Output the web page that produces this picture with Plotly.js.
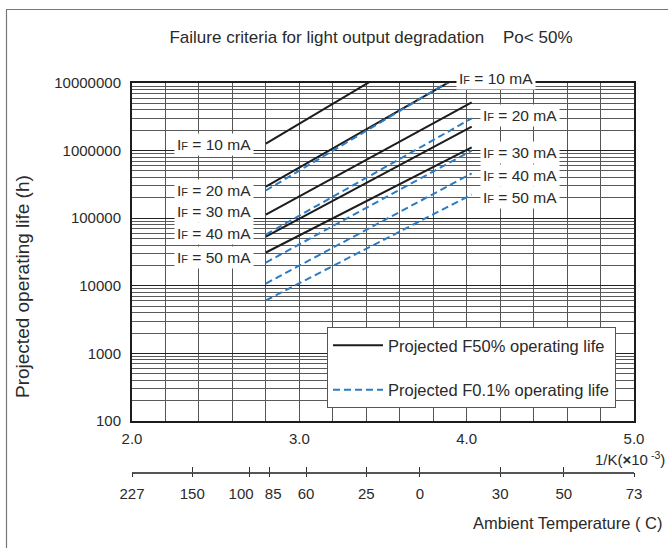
<!DOCTYPE html>
<html>
<head>
<meta charset="utf-8">
<script src="https://cdn.plot.ly/plotly-3.0.1.min.js"></script>
<style>
html,body{margin:0;padding:0;background:#fff;}
</style>
</head>
<body>
<div id="chart" style="width:668px;height:548px;"></div>
<script>
// ---- data ----
const invT = [2.8, 4.03];               // 1/K (x10^-3), 85 C .. -25 C
const currents = [10, 20, 30, 40, 50];  // IF (mA)
// Projected F50% operating life (h) at invT endpoints
const f50_10 = [1.27e6, 8.2e7];
const f50_20 = [2.94e5, 1.6e7];
const f50_30 = [1.13e5, 5.15e6];
const f50_40 = [5.36e4, 2.26e6];
const f50_50 = [3.11e4, 1.12e6];
// Projected F0.1% operating life (h)
const f01_10 = [2.57e5, 1.66e7];
const f01_20 = [5.74e4, 3.0e6];
const f01_30 = [2.21e4, 1.0e6];
const f01_40 = [1.08e4, 4.6e5];
const f01_50 = [6.07e3, 2.24e5];

const yTickVals = [100, 1000, 10000, 100000, 1000000, 10000000];
const yTickText = ['100', '1000', '10000', '100000', '1000000', '10000000'];
const xTickVals = [2, 3, 4, 5];
const xTickText = ['2.0', '3.0', '4.0', '5.0'];
const tempTickVals = [2.0, 2.36, 2.70, 2.82, 3.04, 3.40, 3.72, 4.20, 4.58, 5.0];
const tempTickText = ['227', '150', '100', '85', '60', '25', '0', '30', '50', '73'];

const titleText = 'Failure criteria for light output degradation\u00a0\u00a0\u00a0\u00a0Po&lt;\u00a050%';
const legendF50 = 'Projected F50% operating life';
const legendF01 = 'Projected F0.1% operating life';

// ---- build ----
const FONT = 'Liberation Sans, Arial, Helvetica, sans-serif';
const TXT = '#2a2a2a';
const BLACK = '#1c1c1c';
const BLUE = '#2b7bc6';

const f50 = [f50_10, f50_20, f50_30, f50_40, f50_50];
const f01 = [f01_10, f01_20, f01_30, f01_40, f01_50];

// minor log grid values
const minorVals = [];
for (let e = 2; e < 7; e++) {
  for (let m = 2; m <= 9; m++) minorVals.push(m * Math.pow(10, e));
}

// pixel -> paper helpers for the plot area (l=132, r=634, top=83, bottom=472)
const PL = 132, PW = 502, PB = 472, PH = 389;
const px = v => (v - PL) / PW;
const py = v => (PB - v) / PH;
const PX_PER_UNIT = PW / 3;

// crowded temperature labels (100 / 85) sit slightly apart from their ticks, as in the original
const labelNudgePx = {'100': -8, '85': 4};
const tempLabelPos = tempTickVals.map((v, i) => v + (labelNudgePx[tempTickText[i]] || 0) / PX_PER_UNIT);

const traces = [];
f50.forEach((ys, i) => {
  traces.push({
    x: invT, y: ys, type: 'scatter', mode: 'lines',
    line: {color: BLACK, width: 2},
    name: legendF50, legendgroup: 'f50', showlegend: i === 0,
    hoverinfo: 'skip'
  });
});
f01.forEach((ys, i) => {
  traces.push({
    x: invT, y: ys, type: 'scatter', mode: 'lines',
    line: {color: BLUE, width: 2, dash: '7px,4px'},
    name: legendF01, legendgroup: 'f01', showlegend: i === 0,
    hoverinfo: 'skip'
  });
});
// carriers for the temperature axes
['x2', 'x3', 'x4'].forEach(ax => {
  traces.push({x: tempTickVals, y: tempTickVals.map(() => null), xaxis: ax, yaxis: 'y',
    mode: 'lines', showlegend: false, hoverinfo: 'skip'});
});

const ifLabel = c => 'I<span style="font-size:11px">F</span> = ' + c + ' mA';
const labelFont = {family: FONT, size: 15.5, color: TXT};

const leftY = [144, 190, 212, 234, 257];
const rightX = [496, 520, 520, 520, 520];
const rightY = [79, 116, 152, 175, 197];

const annotations = [];
currents.forEach((c, i) => {
  annotations.push({
    text: ifLabel(c), xref: 'paper', yref: 'paper', x: px(214), y: py(leftY[i]),
    xanchor: 'center', yanchor: 'middle', showarrow: false,
    bgcolor: '#ffffff', borderpad: 2, font: labelFont
  });
  annotations.push({
    text: ifLabel(c), xref: 'paper', yref: 'paper', x: px(rightX[i]), y: py(rightY[i]),
    xanchor: 'center', yanchor: 'middle', showarrow: false,
    bgcolor: '#ffffff', borderpad: 2, font: labelFont
  });
});
annotations.push({
  text: 'Projected operating life (h)', xref: 'paper', yref: 'paper',
  x: px(22), y: py(287), textangle: -90, xanchor: 'center', yanchor: 'middle',
  showarrow: false, font: {family: FONT, size: 19, color: TXT}
});
annotations.push({
  text: '1/K(<b>\u00d7</b>10<sup> -3</sup>)', xref: 'paper', yref: 'paper',
  x: px(667), y: py(458), xanchor: 'right', yanchor: 'middle',
  showarrow: false, font: {family: FONT, size: 15, color: TXT}
});
annotations.push({
  text: 'Ambient Temperature ( C)', xref: 'paper', yref: 'paper',
  x: px(665), y: py(523), xanchor: 'right', yanchor: 'middle',
  showarrow: false, font: {family: FONT, size: 16.5, color: TXT}
});

const tempAxisBase = {
  overlaying: 'x', anchor: 'free', position: 0, side: 'bottom', range: [2, 5],
  showgrid: false, zeroline: false, fixedrange: true, tickangle: 0
};

const layout = {
  width: 668, height: 548,
  margin: {l: 132, r: 34, t: 83, b: 76},
  paper_bgcolor: '#ffffff', plot_bgcolor: '#ffffff',
  font: {family: FONT, color: TXT, size: 15},
  title: {text: titleText, x: 371 / 668, xanchor: 'center', y: 1 - 37 / 548, yanchor: 'middle',
          font: {family: FONT, size: 17, color: TXT}},
  showlegend: true,
  legend: {
    x: px(327), y: py(327), xanchor: 'left', yanchor: 'top',
    bgcolor: '#ffffff', bordercolor: '#555555', borderwidth: 1,
    font: {family: FONT, size: 16.5, color: TXT},
    traceorder: 'grouped', tracegroupgap: 20, itemwidth: 50
  },
  xaxis: {
    range: [2, 5], tickmode: 'array', tickvals: xTickVals, ticktext: xTickText,
    showgrid: true, gridcolor: '#555555', gridwidth: 1,
    minor: {dtick: 0.2, tick0: 2, showgrid: true, gridcolor: '#555555', gridwidth: 1, ticks: ''},
    showline: true, linecolor: '#1c1c1c', linewidth: 2, mirror: true,
    ticks: '', ticklabelstandoff: 3, zeroline: false, fixedrange: true, tickangle: 0,
    tickfont: {family: FONT, size: 15, color: TXT}
  },
  // temperature scale: line + labels
  xaxis2: Object.assign({}, tempAxisBase, {
    tickmode: 'array', tickvals: tempLabelPos, ticktext: tempTickText,
    showline: true, linecolor: '#555555', linewidth: 1.5,
    ticks: '', ticklabelstandoff: 7,
    tickfont: {family: FONT, size: 15, color: TXT}
  }),
  // temperature scale: tick marks crossing the line
  xaxis3: Object.assign({}, tempAxisBase, {
    tickmode: 'array', tickvals: tempTickVals, showline: false, showticklabels: false,
    ticks: 'inside', ticklen: 5, tickcolor: '#333333', tickwidth: 1
  }),
  xaxis4: Object.assign({}, tempAxisBase, {
    tickmode: 'array', tickvals: tempTickVals, showline: false, showticklabels: false,
    ticks: 'outside', ticklen: 4, tickcolor: '#333333', tickwidth: 1
  }),
  yaxis: {
    type: 'log', range: [2, 7], domain: [51 / 389, 1],
    tickmode: 'array', tickvals: yTickVals, ticktext: yTickText,
    showgrid: true, gridcolor: '#222222', gridwidth: 1,
    minor: {tickmode: 'array', tickvals: minorVals, showgrid: true, gridcolor: '#5a5a5a', gridwidth: 1, ticks: ''},
    showline: true, linecolor: '#1c1c1c', linewidth: 2, mirror: true,
    ticks: '', ticklabelstandoff: 6, zeroline: false, fixedrange: true,
    tickfont: {family: FONT, size: 15, color: TXT}
  },
  annotations: annotations,
  shapes: [{
    type: 'rect', xref: 'paper', yref: 'paper',
    x0: px(6.5), x1: px(700), y0: py(570), y1: py(9.5),
    line: {color: '#777777', width: 1.2}, fillcolor: 'rgba(0,0,0,0)', layer: 'below'
  }]
};

Plotly.newPlot('chart', traces, layout, {staticPlot: true, displayModeBar: false});
</script>
</body>
</html>
